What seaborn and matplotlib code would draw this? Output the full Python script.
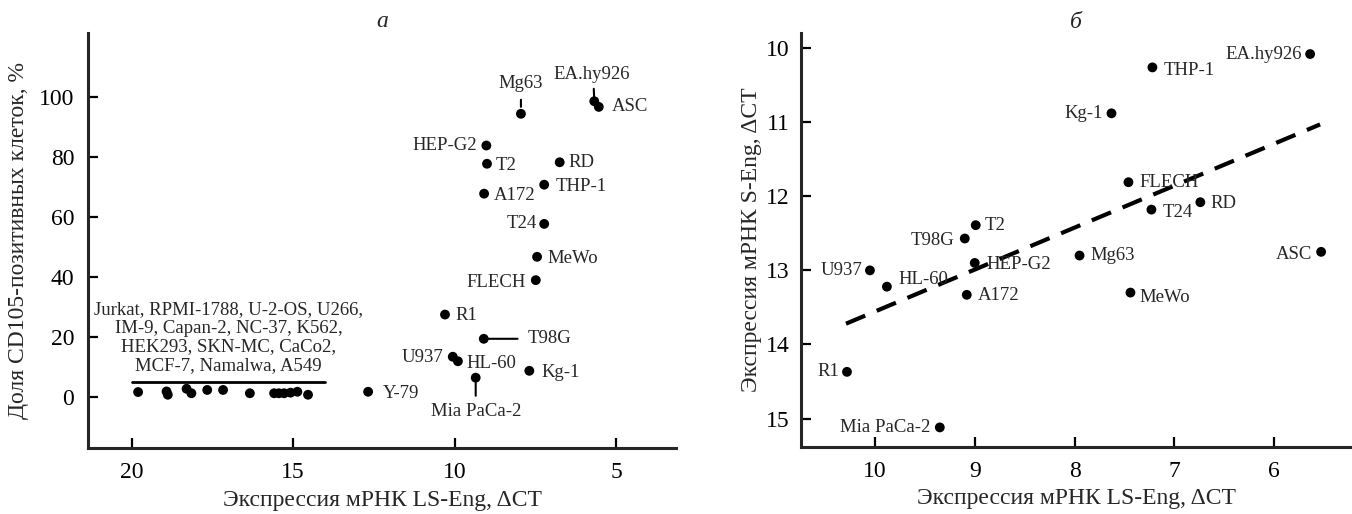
import numpy as np
import pandas as pd
import seaborn as sns
import matplotlib.pyplot as plt

# panel a: CD105+ share vs LS-Eng expression
a_names = ["Mg63", "EA.hy926", "ASC", "HEP-G2", "T2", "RD", "THP-1", "A172", "T24",
           "MeWo", "FLECH", "R1", "T98G", "U937", "HL-60", "Kg-1", "Mia PaCa-2", "Y-79"]
a_x = [7.95, 5.68, 5.54, 9.02, 9.00, 6.75, 7.23, 9.09, 7.23,
       7.45, 7.49, 10.30, 9.10, 10.06, 9.90, 7.69, 9.35, 12.68]
a_y = [94.5, 98.7, 96.8, 83.9, 77.8, 78.3, 70.8, 67.8, 57.7,
       46.7, 38.9, 27.4, 19.3, 13.3, 11.8, 8.6, 6.3, 1.6]

# 14 low-expressing lines (unlabelled dots)
grp_x = [19.80, 18.92, 18.88, 18.30, 18.15, 17.66, 17.17, 16.34, 15.59, 15.44,
         15.28, 15.08, 14.87, 14.54]
grp_y = [1.5, 1.7, 0.6, 2.6, 1.1, 2.2, 2.2, 1.1, 1.1, 1.1, 1.1, 1.3, 1.6, 0.6]
grp_bar_x = [20, 14]
grp_bar_y = [5, 5]
grp_text = ("Jurkat, RPMI-1788, U-2-OS, U266,\nIM-9, Capan-2, NC-37, K562,\n"
            "HEK293, SKN-MC, CaCo2,\nMCF-7, Namalwa, A549")

# panel b: S-Eng vs LS-Eng expression
b_names = ["EA.hy926", "THP-1", "Kg-1", "FLECH", "RD", "T24", "T2", "T98G", "ASC",
           "Mg63", "HEP-G2", "U937", "HL-60", "A172", "MeWo", "R1", "Mia PaCa-2"]
b_x = [5.64, 7.22, 7.63, 7.46, 6.74, 7.23, 8.99, 9.10, 5.53,
       7.95, 9.00, 10.05, 9.88, 9.08, 7.44, 10.28, 9.35]
b_y = [10.08, 10.26, 10.88, 11.81, 12.08, 12.18, 12.39, 12.57, 12.75,
       12.80, 12.90, 13.00, 13.22, 13.33, 13.30, 14.37, 15.12]
trend_x = [10.29, 5.54]
trend_y = [13.72, 11.03]

# label placement: (dx px, dy px, ha)
a_pos = {
    "ASC": (13, 0, "left"), "HEP-G2": (-9, 0, "right"), "T2": (9, -2, "left"),
    "RD": (9, 0, "left"), "THP-1": (11, -2, "left"), "A172": (10, -2, "left"),
    "T24": (-7, 0, "right"), "MeWo": (10, -2, "left"), "FLECH": (-10, -2, "right"),
    "R1": (10, -1, "left"), "U937": (-9, -1, "right"), "HL-60": (9, -2, "left"),
    "Kg-1": (12, -2, "left"), "Y-79": (15, -2, "left"),
}
b_pos = {
    "EA.hy926": (-8, 0, "right"), "THP-1": (11, -3, "left"), "Kg-1": (-9, 0, "right"),
    "FLECH": (11, 0, "left"), "RD": (10, -1, "left"), "T24": (11, -3, "left"),
    "T2": (9, 0, "left"), "T98G": (-10, -2, "right"), "ASC": (-9, -3, "right"),
    "Mg63": (11, 0, "left"), "HEP-G2": (12, -2, "left"), "U937": (-8, 0, "right"),
    "HL-60": (12, 7, "left"), "A172": (11, -1, "left"), "MeWo": (9, -5, "left"),
    "R1": (-8, 0, "right"), "Mia PaCa-2": (-9, 0, "right"),
}

sns.set_style("ticks")
plt.rcParams["font.family"] = ["Liberation Serif", "DejaVu Serif"]
plt.rcParams["axes.linewidth"] = 2.2

fig = plt.figure(figsize=(13.52, 5.14), dpi=100)
ax1 = fig.add_axes([0.0651, 0.1284, 0.4349, 0.8074])
ax2 = fig.add_axes([0.5925, 0.1310, 0.4068, 0.8042])

lab_fs = 13.5
dot = dict(color="black", s=50, edgecolor="none", legend=False, zorder=3)

# ---- panel a
dfa = pd.DataFrame({"x": a_x + grp_x, "y": a_y + grp_y})
sns.scatterplot(data=dfa, x="x", y="y", ax=ax1, **dot)
ax1.plot(grp_bar_x, grp_bar_y, color="black", lw=2.0)
ax1.text(np.mean(grp_bar_x), 7.5, grp_text, ha="center", va="bottom",
         fontsize=lab_fs, linespacing=1.12)

for n, x, y in zip(a_names, a_x, a_y):
    if n in a_pos:
        dx, dy, ha = a_pos[n]
        ax1.annotate(n, (x, y), xytext=(dx, dy), textcoords="offset pixels",
                     ha=ha, va="center", fontsize=lab_fs)
    elif n == "Mg63":
        ax1.annotate(n, (x, y), xytext=(0, 30), textcoords="offset pixels",
                     ha="center", va="center", fontsize=lab_fs,
                     arrowprops=dict(arrowstyle="-", color="black", lw=1.5,
                                     shrinkA=3, shrinkB=5, relpos=(0.5, 0)))
    elif n == "EA.hy926":
        ax1.annotate(n, (x, y), xytext=(-3, 27), textcoords="offset pixels",
                     ha="center", va="center", fontsize=lab_fs,
                     arrowprops=dict(arrowstyle="-", color="black", lw=1.5,
                                     shrinkA=2, shrinkB=2, relpos=(0.53, 0)))
    elif n == "Mia PaCa-2":
        ax1.annotate(n, (x, y), xytext=(0, -34), textcoords="offset pixels",
                     ha="center", va="center", fontsize=lab_fs,
                     arrowprops=dict(arrowstyle="-", color="black", lw=1.5,
                                     shrinkA=3, shrinkB=2, relpos=(0.5, 1)))
    elif n == "T98G":
        ax1.annotate(n, (x, y), xytext=(44, 0), textcoords="offset pixels",
                     ha="left", va="center", fontsize=lab_fs,
                     arrowprops=dict(arrowstyle="-", color="black", lw=1.5,
                                     shrinkA=5, shrinkB=3, relpos=(0, 0.5)))

ax1.set_xlim(21.35, 3.15)
ax1.set_ylim(-17.2, 121.5)
ax1.set_xticks([20, 15, 10, 5])
ax1.set_yticks([0, 20, 40, 60, 80, 100])
ax1.set_xlabel("Экспрессия мРНК LS-Eng, ΔCT", fontsize=17, labelpad=5)
ax1.set_ylabel("Доля CD105-позитивных клеток, %", fontsize=17, labelpad=7)
ax1.set_title("а", style="italic", fontsize=17, pad=4)

# ---- panel b
dfb = pd.DataFrame({"x": b_x, "y": b_y})
sns.scatterplot(data=dfb, x="x", y="y", ax=ax2, **dot)
sns.lineplot(x=trend_x, y=trend_y, ax=ax2, color="black", lw=3.0,
             dashes=False, sort=False)
ax2.lines[-1].set_dashes((5, 3))

for n, x, y in zip(b_names, b_x, b_y):
    dx, dy, ha = b_pos[n]
    ax2.annotate(n, (x, y), xytext=(dx, dy), textcoords="offset pixels",
                 ha=ha, va="center", fontsize=lab_fs)

ax2.set_xlim(10.74, 5.23)
ax2.set_ylim(15.38, 9.8)
ax2.set_xticks([10, 9, 8, 7, 6])
ax2.set_yticks([10, 11, 12, 13, 14, 15])
ax2.set_xlabel("Экспрессия мРНК LS-Eng, ΔCT", fontsize=17, labelpad=5)
ax2.set_ylabel("Экспрессия мРНК S-Eng, ΔCT", fontsize=17, labelpad=3)
ax2.set_title("б", style="italic", fontsize=17, pad=4)

for ax in (ax1, ax2):
    sns.despine(ax=ax)
    ax.tick_params(direction="in", length=7, width=1.6, labelsize=17, pad=10,
                   colors="black")

ax2.tick_params(axis="y", pad=8)

fig.savefig("out.png", dpi=100, facecolor="white")
